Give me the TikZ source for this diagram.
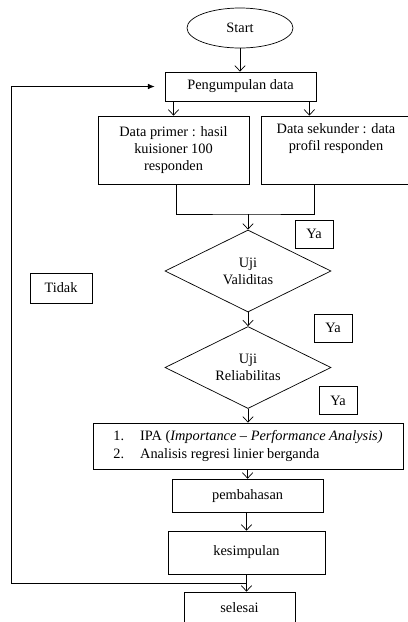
\documentclass[tikz,border=0pt]{standalone}
\usepackage{fontspec}
\setmainfont{Liberation Serif}
\usetikzlibrary{shapes,arrows.meta,calc}
\tikzset{
	box/.style      = {shape=rectangle, draw, anchor=center,
		align=center, inner sep=1pt, line width=0.5pt},
	terminal/.style = {box, ellipse},
	decision/.style = {box, diamond, aspect=2, inner sep=0pt,
		minimum width=4.15cm, minimum height=2.05cm},
	answer/.style   = {box, minimum width=0.95cm, minimum height=0.7cm},
	arr/.style      = {-{Straight Barb[length=1.4mm,width=2.6mm]}, line width=0.5pt},
	backarrow/.style = {-{Latex[length=1.7mm,width=1.4mm]}, line width=0.5pt}
}

\begin{document}
\begin{tikzpicture}[font=\fontsize{10.2}{12.2}\selectfont]
	\useasboundingbox (0,0) rectangle (10.175,-15.55);
	\node [terminal, minimum width=2.65cm, minimum height=1cm] at (6,-0.7) (start) {Start};
	\node [box, minimum width=3.775cm, minimum height=0.725cm] at (6.0125,-2.1625) (pengumpulan) {Pengumpulan data};
	\node [box, minimum width=3.775cm, minimum height=1.7cm] at (4.3375,-3.75) (primer) {Data primer : hasil\\kuisioner 100\\responden};
	\node [box, minimum width=3.75cm, minimum height=1.7cm] at (8.4,-3.75) (sekunder) {Data sekunder : data\\profil responden\\[2mm]};
	\coordinate (join) at (6.2,-5.35);
	\coordinate (split) at ([xshift=-1.75mm]pengumpulan.south east);
	\node [decision] at (6.2,-6.775) (validitas) {Uji\\Validitas};
	\node [decision] at (6.2,-9.1875) (reliabilitas) {Uji\\Reliabilitas};
	\node [box, minimum width=7.75cm, minimum height=1.15cm] at (6.2,-11.15) (analisis) {\begin{tabular}{@{}l@{\hspace{4mm}}l@{}}
		1. & IPA (\textit{Importance – Performance Analysis)}\\
		2. & Analisis regresi linier berganda
	\end{tabular}};
	\node [box, minimum width=3.775cm, minimum height=0.825cm] at (6.19,-12.39) (pembahasan) {pembahasan};
	\node [box, minimum width=3.925cm, minimum height=1.075cm] at (6.1625,-13.8125) (kesimpulan) {kesimpulan};
	\node [box, minimum width=2.775cm, minimum height=0.8cm] at (5.9875,-15.2) (selesai) {selesai};
	\node [answer] at (7.85,-5.85) (ya1) {Ya};
	\node [answer] at (8.325,-8.2) (ya2) {Ya};
	\node [answer] at (8.45,-10.0125) (ya3) {Ya};
	\node [box, minimum width=1.55cm, minimum height=0.75cm] at (1.525,-7.2) (tidak) {Tidak};

	\draw [arr] (start.south) -- (start.south |- pengumpulan.north);
	\draw [arr] (pengumpulan.south -| primer.north) -- (primer.north);
	\draw [arr] (split) -- (split |- sekunder.north);
	\draw ([xshift=0.6mm]primer.south) |- (join) -| ([xshift=-5.5mm]sekunder.south);
	\draw [arr] (join) -- (validitas.north);
	\draw [arr] (validitas) -- (reliabilitas);
	\draw [arr] (reliabilitas) -- (analisis);
	\draw [arr] (analisis.south -| pembahasan.north) -- (pembahasan.north);
	\draw [arr] (pembahasan.south -| kesimpulan.north) -- (kesimpulan.north);
	\draw [arr] (kesimpulan.south) -- (kesimpulan.south |- selesai.north);
	\coordinate (back) at ($(kesimpulan.south)!0.5!(kesimpulan.south |- selesai.north)$);
	\draw [backarrow] (back) -| ([xshift=-3.825cm]pengumpulan.west) -- ([xshift=-2.5mm]pengumpulan.west);
\end{tikzpicture}
\end{document}
